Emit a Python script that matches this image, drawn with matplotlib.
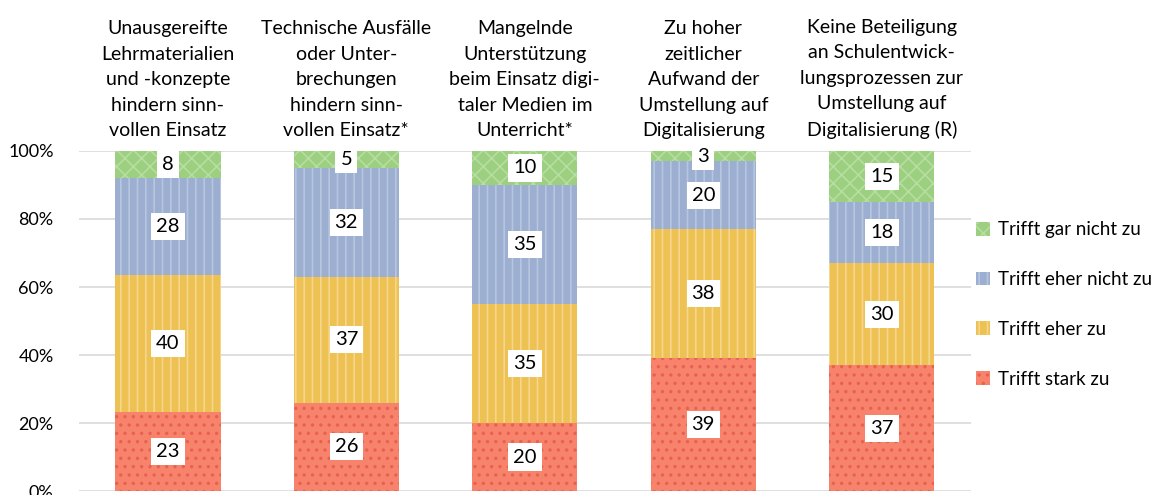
import numpy as np
import matplotlib
matplotlib.use("Agg")
import matplotlib.pyplot as plt

plt.rcParams['font.family'] = ['Lato', 'DejaVu Sans']
plt.rcParams['hatch.linewidth'] = 1.2

categories = [
    "Unausgereifte\nLehrmaterialien\nund -konzepte\nhindern sinn-\nvollen Einsatz",
    "Technische Ausfälle\noder Unter-\nbrechungen\nhindern sinn-\nvollen Einsatz*",
    "Mangelnde\nUnterstützung\nbeim Einsatz digi-\ntaler Medien im\nUnterricht*",
    "Zu hoher\nzeitlicher\nAufwand der\nUmstellung auf\nDigitalisierung",
    "Keine Beteiligung\nan Schulentwick-\nlungsprozessen zur\nUmstellung auf\nDigitalisierung (R)",
]
series_names = ["Trifft stark zu", "Trifft eher zu", "Trifft eher nicht zu", "Trifft gar nicht zu"]
stark = [23, 26, 20, 39, 37]
eher = [40, 37, 35, 38, 30]
eher_nicht = [28, 32, 35, 20, 18]
gar_nicht = [8, 5, 10, 3, 15]

series = [stark, eher, eher_nicht, gar_nicht]
colors = ["#F8836C", "#EDC152", "#9DAFD0", "#9DCF80"]
hatch_cols = ["#E8614C", "#F6D58E", "#B7C6E0", "#B6DEA0"]
hatches = ["..", "||", "||", "xx"]

vals = np.array(series, dtype=float)
totals = vals.sum(axis=0)
shares = vals / totals

fig = plt.figure(figsize=(11.56, 4.95), dpi=100)
ax = fig.add_axes([0.068, 0.008, 0.772, 0.687])

x = np.arange(len(categories))
bottom = np.zeros(len(categories))
handles = []
for i, name in enumerate(series_names):
    b = ax.bar(x, shares[i], 0.59, bottom=bottom, color=colors[i],
               edgecolor=hatch_cols[i], linewidth=0, hatch=hatches[i], label=name, zorder=2)
    handles.append(b)
    for j in range(len(x)):
        ax.text(x[j], bottom[j] + shares[i][j] / 2, f"{int(vals[i][j])}",
                ha="center", va="center", fontsize=14.5, zorder=3,
                bbox=dict(facecolor="white", edgecolor="none", boxstyle="square,pad=0.25"))
    bottom += shares[i]

ax.set_xlim(-0.5, len(x) - 0.5)
ax.set_ylim(0, 1)
ax.set_yticks(np.arange(0, 1.01, 0.2))
ax.set_yticklabels([f"{int(t * 100)}%" for t in np.arange(0, 1.01, 0.2)], fontsize=13)
ax.set_xticks([])
ax.yaxis.grid(True, color="#D9D9D9", linewidth=1.2, zorder=0)
ax.tick_params(axis="y", length=0, pad=18)
for s in ax.spines.values():
    s.set_visible(False)

for j, cat in enumerate(categories):
    ax.text(x[j], 1.035, cat, ha="center", va="bottom", fontsize=14,
            linespacing=1.6, transform=ax.get_xaxis_transform())

leg = fig.legend(handles[::-1], series_names[::-1], loc="center left",
                 bbox_to_anchor=(0.83, 0.385), frameon=False, fontsize=13.5,
                 handlelength=0.75, handleheight=0.75, labelspacing=1.75, handletextpad=0.4)

fig.savefig("out.png", dpi=100)
